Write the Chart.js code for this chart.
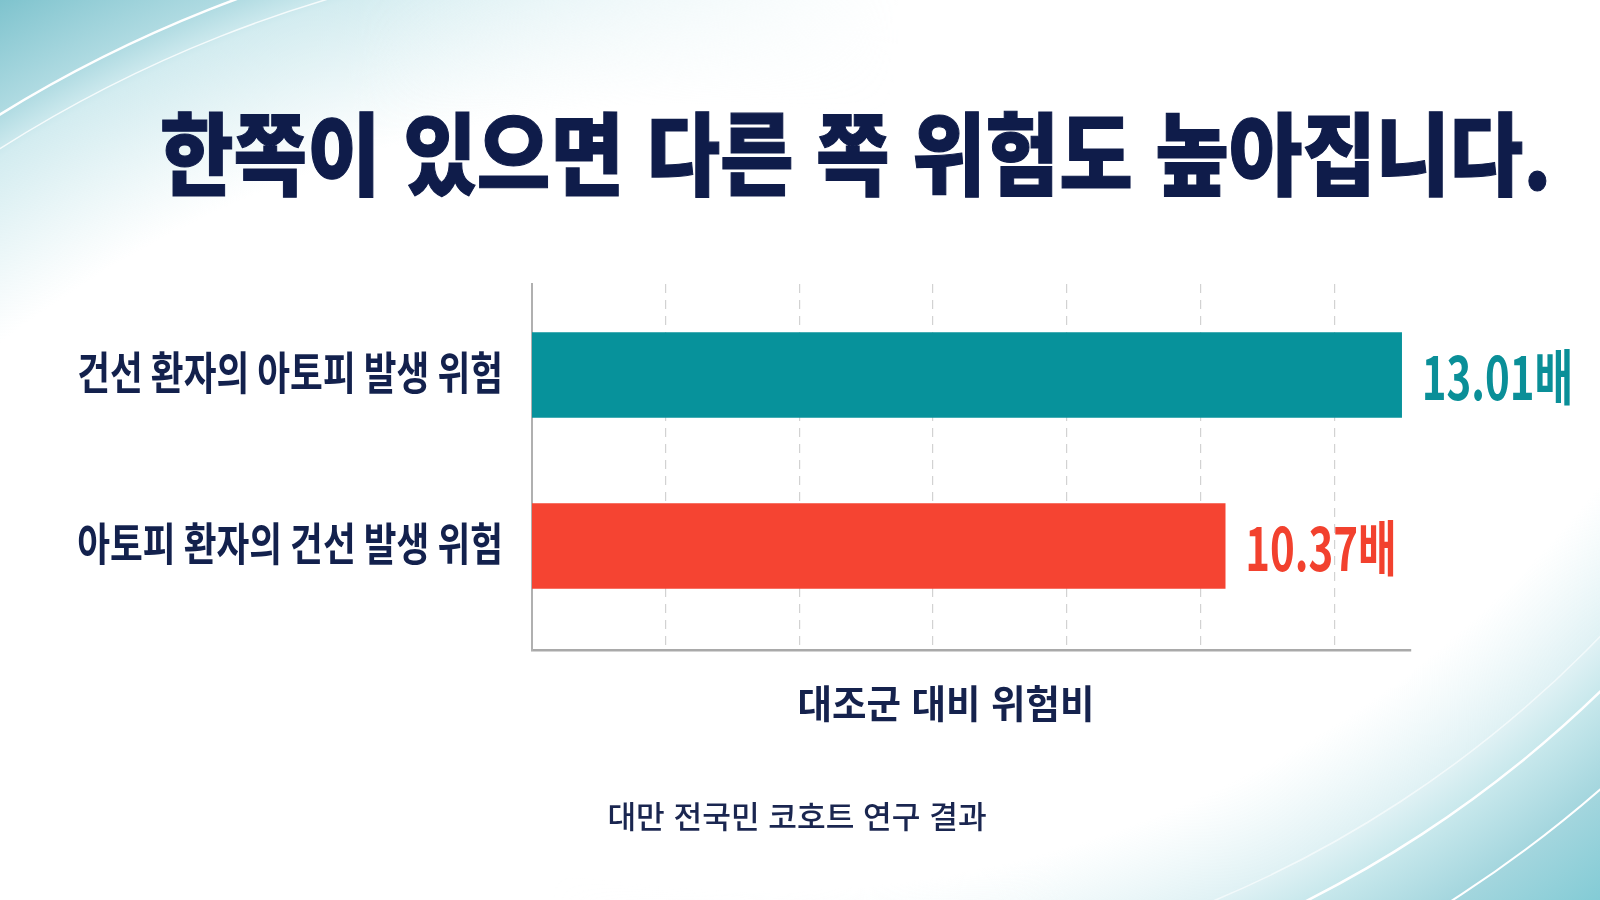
<!DOCTYPE html>
<html lang="ko">
<head>
<meta charset="utf-8">
<title>건선과 아토피 위험비</title>
<script src="https://cdn.jsdelivr.net/npm/chart.js@4.4.1/dist/chart.umd.min.js"></script>
<style>
  html, body { margin: 0; padding: 0; }
  body { width: 1600px; height: 900px; position: relative; overflow: hidden; background: #fff;
         font-family: "Noto Sans CJK KR", "Noto Sans", sans-serif; }
  #bg, #chart { position: absolute; left: 0; top: 0; }
  .txt { position: absolute; white-space: nowrap; line-height: 1; }
  #title { left: 160px; top: 104px; font-size: 80px; font-weight: 900; color: #0f1c4a;
           -webkit-text-stroke: 1px #0f1c4a;
           transform: scaleY(1.125); transform-origin: left top; }
  #axisTitle { left: 946px; top: 682px; font-size: 37.5px; font-weight: 700; color: #15224d;
               transform: translateX(-50%) scaleY(1.03); transform-origin: center top; }
  #note { left: 797px; top: 799px; font-size: 31.2px; font-weight: 500; color: #1a2650;
          transform: translateX(-50%); }
</style>
</head>
<body>
<svg id="bg" width="1600" height="900" viewBox="0 0 1600 900">
  <defs>
    <radialGradient id="tl" gradientUnits="userSpaceOnUse" cx="700" cy="1250" r="1450">
      <stop offset="0.79" stop-color="#d8eef1" stop-opacity="0"/>
      <stop offset="0.895" stop-color="#d3ecf0" stop-opacity="1"/>
      <stop offset="0.92" stop-color="#b0dbe2"/>
      <stop offset="1" stop-color="#76bfca"/>
    </radialGradient>
    <radialGradient id="tlFade" gradientUnits="userSpaceOnUse" cx="0" cy="0" r="900">
      <stop offset="0" stop-color="#fff"/>
      <stop offset="0.4" stop-color="#fff"/>
      <stop offset="1" stop-color="#000"/>
    </radialGradient>
    <mask id="mtl"><rect width="1600" height="900" fill="url(#tlFade)"/></mask>
    <radialGradient id="br" gradientUnits="userSpaceOnUse" cx="765" cy="-170" r="1360">
      <stop offset="0.78" stop-color="#e6f5f7" stop-opacity="0"/>
      <stop offset="0.854" stop-color="#dff1f4" stop-opacity="1"/>
      <stop offset="0.882" stop-color="#c8e8ec"/>
      <stop offset="0.935" stop-color="#a4d6de"/>
      <stop offset="1" stop-color="#82cbd5"/>
    </radialGradient>
    <radialGradient id="brFade" gradientUnits="userSpaceOnUse" cx="1600" cy="900" r="1050">
      <stop offset="0" stop-color="#fff"/>
      <stop offset="0.5" stop-color="#fff"/>
      <stop offset="1" stop-color="#000"/>
    </radialGradient>
    <mask id="mbr"><rect width="1600" height="900" fill="url(#brFade)"/></mask>
  </defs>
  <g mask="url(#mtl)">
    <rect width="1600" height="900" fill="url(#tl)"/>
    <circle cx="700" cy="1250" r="1334" fill="none" stroke="#fff" stroke-width="2.5"/>
    <circle cx="700" cy="1250" r="1305" fill="none" stroke="#fff" stroke-opacity="0.8" stroke-width="1.5"/>
  </g>
  <g mask="url(#mbr)">
    <rect width="1600" height="900" fill="url(#br)"/>
    <circle cx="765" cy="-170" r="1161" fill="none" stroke="#fff" stroke-opacity="0.6" stroke-width="1.5"/>
    <circle cx="765" cy="-170" r="1200" fill="none" stroke="#fff" stroke-width="2.5"/>
    <circle cx="765" cy="-170" r="1272" fill="none" stroke="#fff" stroke-width="2"/>
  </g>
</svg>
<canvas id="chart" width="1600" height="900"></canvas>
<div id="title" class="txt">한쪽이 있으면 다른 쪽 위험도 높아집니다.</div>
<div id="axisTitle" class="txt">대조군 대비 위험비</div>
<div id="note" class="txt">대만 전국민 코호트 연구 결과</div>
<script>
// data
const categories = ['건선 환자의 아토피 발생 위험', '아토피 환자의 건선 발생 위험'];
const values = [13.01, 10.37];
const unit = '배';
const gridValues = [2, 4, 6, 8, 10, 12];

const barColors = ['#07929b', '#f54432'];
const valueColors = ['#0a8f98', '#f2412e'];

// category names and value labels, drawn a little condensed like the slide
const labelPlugin = {
  id: 'barLabels',
  afterDatasetsDraw(chart) {
    const ctx = chart.ctx;
    const xScale = chart.scales.x;
    const yScale = chart.scales.y;
    ctx.save();
    ctx.textBaseline = 'middle';
    categories.forEach((name, i) => {
      ctx.save();
      ctx.translate(xScale.left - 29, yScale.getPixelForValue(i) - 2);
      ctx.scale(0.792, 1);
      ctx.font = '700 45px "Noto Sans CJK KR"';
      ctx.fillStyle = '#13214d';
      ctx.textAlign = 'right';
      ctx.fillText(name, 0, 0);
      ctx.restore();
    });
    chart.getDatasetMeta(0).data.forEach((bar, i) => {
      ctx.save();
      ctx.translate(bar.x + 20, bar.y + 2);
      ctx.scale(0.70, 1);
      ctx.font = '700 60px "Noto Sans CJK KR"';
      ctx.fillStyle = valueColors[i];
      ctx.textAlign = 'left';
      ctx.fillText(values[i].toFixed(2) + unit, 0, 0);
      ctx.restore();
    });
    ctx.restore();
  }
};

const ctx = document.getElementById('chart').getContext('2d');
new Chart(ctx, {
  type: 'bar',
  data: {
    datasets: [{
      data: values.map((v, i) => ({ x: v, y: i })),
      backgroundColor: barColors,
      barThickness: 85
    }]
  },
  options: {
    indexAxis: 'y',
    responsive: false,
    animation: false,
    layout: { padding: { left: 0, top: 284, right: 189, bottom: 250 } },
    plugins: { legend: { display: false }, tooltip: { enabled: false } },
    scales: {
      x: {
        type: 'linear',
        min: 0,
        max: 13.15,
        afterBuildTicks: (scale) => { scale.ticks = gridValues.map(v => ({ value: v })); },
        afterFit: (scale) => { scale.height = 0; },
        ticks: { display: false },
        grid: { color: '#d2d2d2', lineWidth: 1.2, drawTicks: false },
        border: { color: '#a9a9a9', width: 2.5, dash: [9, 7] }
      },
      y: {
        type: 'linear',
        reverse: true,
        offset: false,
        min: -0.532,
        max: 1.608,
        afterFit: (scale) => { scale.width = 532; },
        ticks: { display: false },
        grid: { display: false, offset: false },
        border: { color: '#b0b0b0', width: 2 }
      }
    }
  },
  plugins: [labelPlugin]
});
</script>
</body>
</html>
